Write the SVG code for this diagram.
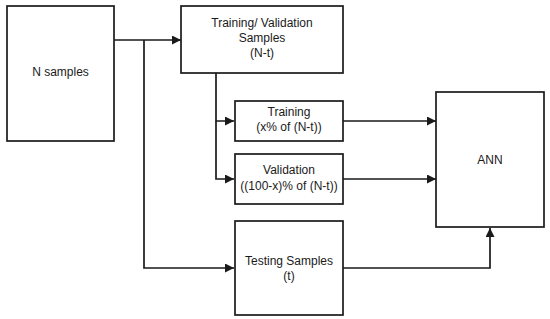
<svg xmlns="http://www.w3.org/2000/svg" width="550" height="319" viewBox="0 0 550 319">
<style>
.box{fill:#fff;stroke:#1a1a1a;stroke-width:1.7}
.lbl{font-family:"Liberation Sans",Arial,sans-serif;font-size:12px;fill:#1a1a1a;text-anchor:middle}
.c{fill:none;stroke:#1a1a1a;stroke-width:1.7}
</style>
<defs>
<marker id="ah" viewBox="0 0 10 10" refX="10" refY="5" markerWidth="12" markerHeight="9" markerUnits="userSpaceOnUse" orient="auto">
<path d="M0,0 L10,5 L0,10 z" fill="#1a1a1a"/>
</marker>
</defs>
<g id="connectors">
<path class="c" d="M114,40 H181" marker-end="url(#ah)"/>
<path class="c" d="M144,40 V268 H234" marker-end="url(#ah)"/>
<path class="c" d="M216,73 V121 H234" marker-end="url(#ah)"/>
<path class="c" d="M216,121 V179 H234" marker-end="url(#ah)"/>
<path class="c" d="M343,121 H436" marker-end="url(#ah)"/>
<path class="c" d="M343,179 H436" marker-end="url(#ah)"/>
<path class="c" d="M343,268 H490 V228" marker-end="url(#ah)"/>
</g>
<g id="n-samples">
<rect class="box" x="7" y="6" width="107" height="135"/>
<text class="lbl" x="60.5" y="76">N samples</text>
</g>
<g id="train-val">
<rect class="box" x="181" y="6" width="162" height="67"/>
<text class="lbl" x="262" y="27">Training/ Validation</text>
<text class="lbl" x="262" y="42">Samples</text>
<text class="lbl" x="262" y="57">(N-t)</text>
</g>
<g id="training">
<rect class="box" x="235" y="101" width="108" height="40"/>
<text class="lbl" x="289" y="116">Training</text>
<text class="lbl" x="289" y="131">(x% of (N-t))</text>
</g>
<g id="validation">
<rect class="box" x="235" y="154" width="108" height="50"/>
<text class="lbl" x="289" y="174">Validation</text>
<text class="lbl" x="289" y="190">((100-x)% of (N-t))</text>
</g>
<g id="testing">
<rect class="box" x="235" y="221" width="108" height="94"/>
<text class="lbl" x="289" y="265">Testing Samples</text>
<text class="lbl" x="289" y="280">(t)</text>
</g>
<g id="ann">
<rect class="box" x="436" y="92" width="108" height="135"/>
<text class="lbl" x="490" y="164">ANN</text>
</g>
</svg>
